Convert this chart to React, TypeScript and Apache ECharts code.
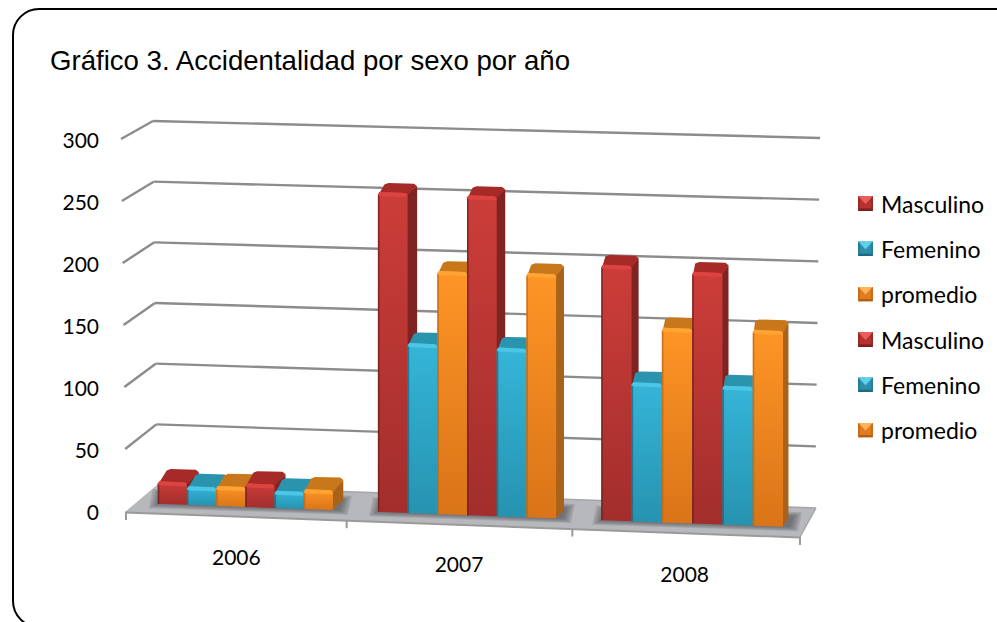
import React, { useEffect, useRef } from "react";
import * as echarts from "echarts";

const titleText = "Gráfico 3. Accidentalidad por sexo por año";
const categories = ["2006", "2007", "2008"];
const yTicks = [0, 50, 100, 150, 200, 250, 300];
const legendNames = ["Masculino", "Femenino", "promedio"];
const masculino1 = [18, 258, 206];
const femenino1 = [15, 137, 112];
const promedio1 = [16, 196, 157];
const masculino2 = [19, 258, 203];
const femenino2 = [14, 136, 112];
const promedio2 = [16, 197, 158];
const seriesValues = [masculino1, femenino1, promedio1, masculino2, femenino2, promedio2];

const FONT = "Lato";
const palette = [
  { hi: "#dd4440", a: "#cc3d39", b: "#a22e2c", top: "#a52a28", side: "#7f2422", edge: "#6e1f1e", lt: "#e8605c", mid: "#b5322f", dk: "#7a1f1e" },
  { hi: "#4cc6e6", a: "#35b5d8", b: "#2693b0", top: "#2a93ad", side: "#1f7488", edge: "#1c6a7e", lt: "#5fd0ec", mid: "#2d8fa9", dk: "#1f6a80" },
  { hi: "#ffa435", a: "#fe9526", b: "#d97418", top: "#c9771b", side: "#a8621a", edge: "#b8691a", lt: "#ffb45a", mid: "#e07b1e", dk: "#a85f18" },
];
const groupShift = [7, 4, 4.5];
const slotWidth = [29.2, 29.7, 30.3];
const tickShift = [0, -4, -3, 0];
const shadowSteps = [9, 7, 5, 3, 1];
const floorSlope = 25 / 674;

function iconFor(i: number) {
  const c = palette[i];
  const svg = `<svg xmlns="http://www.w3.org/2000/svg" width="15" height="15"><rect width="15" height="15" fill="${c.mid}"/><polygon points="0,0 15,0 7.5,8" fill="${c.lt}"/><polygon points="0,0 2,2 2,13 0,15" fill="${c.dk}" opacity="0.45"/><polygon points="15,0 13,2 13,13 15,15" fill="${c.dk}" opacity="0.45"/><polygon points="0,15 2,12.5 13,12.5 15,15" fill="${c.dk}"/></svg>`;
  return "image://data:image/svg+xml;charset=utf-8," + encodeURIComponent(svg);
}

function floorY(x: number) {
  return 512 + (x - 126) * floorSlope;
}

function barSeries(slot: number): any {
  const c = palette[slot % 3];
  return {
    type: "custom",
    name: legendNames[slot % 3],
    itemStyle: { color: c.a },
    z: 5,
    data: seriesValues[slot].map((v, i) => [i, v]),
    renderItem: (_p: any, api: any) => {
      const cat = api.value(0);
      const v = api.value(1);
      const base = api.coord([cat, 0]);
      const top = api.coord([cat, v]);
      const w = slotWidth[cat];
      const xl = base[0] + groupShift[cat] + (slot - 3) * w;
      const xr = xl + w;
      const h = base[1] - top[1];
      const yb = floorY(xl) - 9.5;
      const yt = yb - h;
      const ybr = yb + (xr - xl) * floorSlope;
      const ytr = ybr - h;
      const dx = 14 - 0.011 * xr;
      const dy = 12.5 - v * 0.014;
      const front = new echarts.graphic.LinearGradient(0, 0, 0, 1, [
        { offset: 0, color: c.a },
        { offset: 1, color: c.b },
      ]);
      return {
        type: "group",
        children: [
          {
            type: "polygon",
            shape: { points: [[xr - 1, ytr + 1], [xr + dx, ytr - dy + 2], [xr + dx, ybr - dy + 2], [xr - 1, ybr]] },
            style: { fill: c.side },
          },
          {
            type: "polygon",
            shape: {
              points: [
                [xl + 1, yt + 2],
                [xl + dx - 3, yt - dy + 1.5],
                [xl + dx + 1, yt - dy],
                [xr + dx - 3, ytr - dy - 0.5],
                [xr + dx, ytr - dy + 2],
                [xr, ytr + 2],
              ],
            },
            style: { fill: c.top },
          },
          {
            type: "polygon",
            shape: { points: [[xl, yt + 2], [xl + 2, yt], [xr - 2, ytr], [xr, ytr + 2], [xr, ybr], [xl, yb]] },
            style: { fill: front },
          },
          {
            type: "polygon",
            shape: { points: [[xl + 1, yt + 1], [xl + 2, yt], [xr - 2, ytr], [xr - 0.5, ytr + 1.5], [xr - 0.5, ytr + 4], [xl, yt + 4]] },
            style: { fill: c.hi },
          },
          {
            type: "polygon",
            shape: { points: [[xl, yt + 3], [xl + 1.6, yt + 4], [xl + 1.6, yb], [xl, yb]] },
            style: { fill: c.edge, opacity: 0.75 },
          },
        ],
      };
    },
  };
}

const wallSeries: any = {
  type: "custom",
  silent: true,
  z: 1,
  data: yTicks.map((v) => [0, v]),
  renderItem: (p: any, api: any) => {
    const v = api.value(1);
    const y0 = api.coord([0, 0])[1];
    const frontY = api.coord([0, v])[1];
    const s = (y0 - frontY) / 372;
    const fx = 126 - 5 * s;
    const bx = 157 - 4 * s;
    const by = 485 - 364 * s;
    const rx = 820 - 5 * (1 - s);
    const ry = 508 - 370 * s;
    const stroke = { stroke: "#8c8c8c", lineWidth: 2.4 };
    if (v === 0) return { type: "group", children: [] };
    return {
      type: "group",
      children: [
        { type: "line", shape: { x1: fx, y1: frontY, x2: bx, y2: by }, style: stroke },
        { type: "line", shape: { x1: bx, y1: by, x2: rx, y2: ry }, style: stroke },
      ],
    };
  },
};

const floorSeries: any = {
  type: "custom",
  silent: true,
  z: 2,
  data: [[0, 0]],
  renderItem: (_p: any, api: any) => {
    const o = api.coord([0, 0]);
    const y = o[1];
    const pts = [[125, y + 1], [157, y - 26], [816, y - 3], [800, y + 26]];
    return {
      type: "group",
      children: [
        { type: "polygon", shape: { points: pts }, style: { fill: "#b6b8bb" } },
        { type: "line", shape: { x1: 125, y1: y + 1.5, x2: 800, y2: y + 26.5 }, style: { stroke: "#999999", lineWidth: 2 } },
        { type: "line", shape: { x1: 157, y1: y - 26, x2: 816, y2: y - 3 }, style: { stroke: "#a6a6a6", lineWidth: 1.5 } },
        { type: "line", shape: { x1: 816, y1: y - 3, x2: 800, y2: y + 26 }, style: { stroke: "#a6a6a6", lineWidth: 1.5 } },
      ],
    };
  },
};

const tickSeries: any = {
  type: "custom",
  silent: true,
  z: 2,
  data: [-0.5, 0.5, 1.5, 2.5].map((e) => [e, 0]),
  renderItem: (p: any, api: any) => {
    const i = api.value(0) + 0.5;
    const cs = p.coordSys;
    const x = cs.x + (cs.width * i) / 3 + tickShift[i];
    const y = floorY(x);
    return { type: "line", shape: { x1: x, y1: y, x2: x, y2: y + 8 }, style: { stroke: "#9a9a9a", lineWidth: 2 } };
  },
};

const shadowSeries: any = {
  type: "custom",
  silent: true,
  z: 3,
  data: categories.map((_c, i) => [i, 0]),
  renderItem: (_p: any, api: any) => {
    const cat = api.value(0);
    const cx = api.coord([cat, 0])[0];
    const w = slotWidth[cat];
    const xl = cx + groupShift[cat] - 3 * w;
    const xr = cx + groupShift[cat] + 3 * w;
    const yl = floorY(xl) - 9.5;
    const yr = floorY(xr) - 9.5;
    return {
      type: "group",
      children: shadowSteps.map((g) => ({
        type: "polygon",
        shape: {
          points: [
            [xl - g, yl + g * 0.5],
            [xl + 4 - g, yl - 10 - g * 0.5],
            [xr + 10 + g, yr - 10 - g * 0.5],
            [xr + 6 + g, yr + g * 0.5],
          ],
        },
        style: { fill: "rgba(70,70,74,0.16)" },
      })),
    };
  },
};

function legendAt(top: number): any {
  return {
    show: true,
    orient: "vertical",
    left: 858,
    top,
    padding: 0,
    selectedMode: false,
    itemWidth: 15,
    itemHeight: 15,
    itemGap: 22.3,
    textStyle: { fontFamily: FONT, fontSize: 23, color: "#000", padding: [0, 0, 0, 3] },
    data: legendNames.map((name, i) => ({ name, icon: iconFor(i) })),
  };
}

export default function App() {
  const ref = useRef<HTMLDivElement>(null);
  useEffect(() => {
    const chart = echarts.init(ref.current!, undefined, { renderer: "svg" });
    chart.setOption({
      animation: false,
      backgroundColor: "#ffffff",
      title: {
        text: titleText,
        left: 50,
        top: 46,
        padding: 0,
        textStyle: { fontFamily: "Liberation Sans", fontSize: 27.6, fontWeight: "normal", color: "#000" },
      },
      legend: [legendAt(192), legendAt(328)],
      grid: { left: 126, right: 197, top: 139, bottom: 111, containLabel: false },
      xAxis: {
        type: "category",
        data: categories,
        axisLine: { show: false },
        axisTick: { show: false },
        splitLine: { show: false },
        axisLabel: {
          margin: 35,
          interval: 0,
          color: "#000",
          fontFamily: FONT,
          fontSize: 21,
          formatter: (v: string, i: number) => `{c${i}|${v}}`,
          rich: {
            c0: { fontFamily: FONT, fontSize: 21, padding: [0, 4, 0, 0] },
            c1: { fontFamily: FONT, fontSize: 21, padding: [7, 8, 0, 0] },
            c2: { fontFamily: FONT, fontSize: 21, padding: [17, 6, 0, 0] },
          },
        },
      },
      yAxis: {
        type: "value",
        min: 0,
        max: 300,
        interval: 50,
        axisLine: { show: false },
        axisTick: { show: false },
        splitLine: { show: false },
        axisLabel: { margin: 27, color: "#000", fontFamily: FONT, fontSize: 21 },
      },
      graphic: [
        {
          type: "rect",
          silent: true,
          z: 100,
          shape: { x: 13, y: 9, width: 1100, height: 618, r: 26 },
          style: { fill: "none", stroke: "#000", lineWidth: 2 },
        },
      ],
      series: [wallSeries, floorSeries, tickSeries, shadowSeries, ...seriesValues.map((_v, i) => barSeries(i))],
    });
    return () => chart.dispose();
  }, []);
  return <div ref={ref} style={{ position: "absolute", left: 0, top: 0, width: 997, height: 622, overflow: "hidden" }} />;
}
